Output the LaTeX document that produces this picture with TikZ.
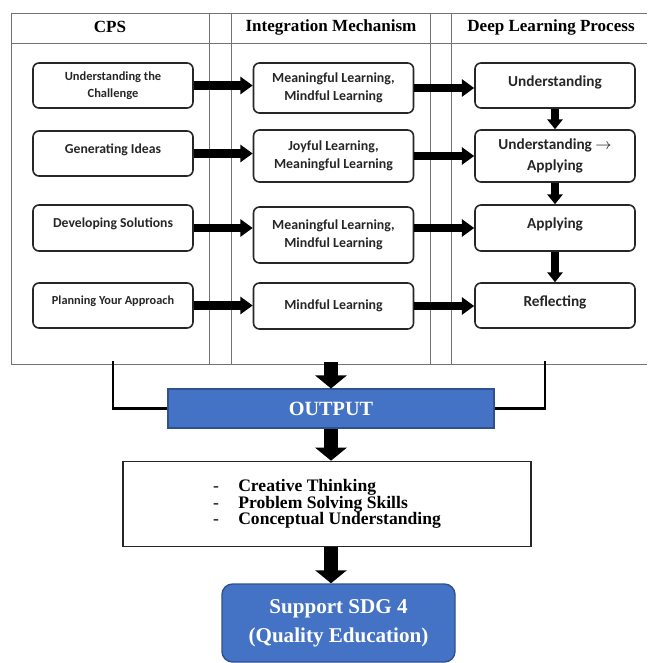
\documentclass[tikz,border=0pt]{standalone}
\usepackage{fontspec}
\setmainfont{Liberation Serif}
\newfontfamily\carlito{Carlito}
\usetikzlibrary{arrows.meta,positioning}

\definecolor{officeblue}{HTML}{4472C4}
\definecolor{blueedge}{HTML}{2F528F}

\newcommand*{\px}{0.02cm}
\newcommand*{\tleft}{11}
\newcommand*{\tright}{647}
\newcommand*{\ttop}{13}
\newcommand*{\thead}{43}
\newcommand*{\tbottom}{364}
\newcommand*{\tightlines}{\lineskiplimit=-6pt\relax}

\begin{document}
\begin{tikzpicture}
[
	x=\px, y=-\px,
	grid/.style={draw=black!55,line width=0.5pt},
	head/.style={font=\fontsize{9.7}{11}\selectfont\bfseries},
	procbox/.style={draw=black!85,line width=0.9pt,rounded corners=3.4pt,minimum width=160*\px,align=center,inner sep=1pt,text=black!85},
	cpsbox/.style={procbox,font=\carlito\bfseries\fontsize{7.8}{10}\selectfont},
	intbox/.style={procbox,font=\carlito\bfseries\fontsize{7.9}{10.5}\selectfont},
	deepbox/.style={procbox,font=\carlito\bfseries\fontsize{8.7}{11.5}\selectfont},
	lifted/.style={text depth=5.5pt},
	flowarrow/.style={line width=5pt,-{Triangle[width=9.6pt,length=7pt]}},
	downarrow/.style={line width=4.4pt,-{Triangle[width=8.6pt,length=5.6pt]}},
	bigarrow/.style={line width=8pt,-{Triangle[width=17.6pt,length=7.4pt]}},
	link/.style={line width=1.3pt}
]

	% table frame
	\useasboundingbox (0,0) rectangle (647,663);
	\draw[grid] (\tleft,\ttop) -- (\tright,\ttop);
	\draw[grid] (\tleft,\thead) -- (\tright,\thead);
	\draw[grid] (\tleft,\tbottom) -- (\tright,\tbottom);
	\draw[grid] (\tleft,\ttop) -- (\tleft,\tbottom);
	\foreach \sx in {209,231,430,451}
		\draw[grid] (\sx,\ttop) -- (\sx,\tbottom);

	\node[head] (hcps) at (110,27) {CPS};
	\node[head] (hint) at (331,27) {Integration Mechanism};
	\node[head] (hdeep) at (551,27) {Deep Learning Process};

	% CPS column
	\node[cpsbox,minimum height=45*\px,font=\carlito\bfseries\fontsize{7.1}{10}\selectfont] (c1) at (113,85.5) {Understanding the\\Challenge};
	\node[cpsbox,lifted,minimum height=45*\px] (c2) at (113,153.5) {Generating Ideas};
	\node[cpsbox,lifted,minimum height=46*\px] (c3) at (113,228) {Developing Solutions};
	\node[cpsbox,lifted,minimum height=45*\px,font=\carlito\bfseries\fontsize{7}{10}\selectfont] (c4) at (113,305.5) {Planning Your Approach};

	% integration column
	\node[intbox,minimum height=50*\px] (i1) at (333.5,88) {Meaningful Learning,\\Mindful Learning};
	\node[intbox,minimum height=52*\px] (i2) at (333.5,156) {Joyful Learning,\\Meaningful Learning};
	\node[intbox,minimum height=56*\px] (i3) at (333.5,235) {Meaningful Learning,\\Mindful Learning};
	\node[intbox,minimum height=46*\px] (i4) at (333.5,306) {Mindful Learning};

	% deep learning column
	\node[deepbox,lifted,minimum height=45*\px] (d1) at (555,85.5) {Understanding};
	\node[deepbox,minimum height=52*\px] (d2) at (555,156) {Understanding \ensuremath{\rightarrow}\\Applying};
	\node[deepbox,lifted,minimum height=46*\px] (d3) at (555,228) {Applying};
	\node[deepbox,lifted,minimum height=45*\px] (d4) at (555,305.5) {Reflecting};

	\draw[flowarrow] (c1.east) -- (c1.east -| i1.west);
	\draw[flowarrow] (c2.east) -- (c2.east -| i2.west);
	\draw[flowarrow] (c3.east) -- (c3.east -| i3.west);
	\draw[flowarrow] (c4.east) -- (c4.east -| i4.west);

	\draw[flowarrow] (i1.east) -- (i1.east -| d1.west);
	\draw[flowarrow] (i2.east) -- (i2.east -| d2.west);
	\draw[flowarrow] (i3.east |- d3.west) -- (d3.west);
	\draw[flowarrow] (i4.east) -- (i4.east -| d4.west);

	\draw[downarrow] (d1.south) -- (d2.north);
	\draw[downarrow] (d2.south) -- (d3.north);
	\draw[downarrow] (d3.south) -- (d4.north);

	% output part
	\node[fill=officeblue,draw=blueedge,line width=0.6pt,minimum width=326*\px,minimum height=39*\px,text=white,font=\fontsize{11.5}{13}\selectfont\bfseries] (out) at (331,408.5) {OUTPUT};

	\node[draw=black!85,line width=0.9pt,minimum width=408*\px,minimum height=85*\px,align=left,font={\fontsize{10}{9.3}\selectfont\bfseries\tightlines}] (res) at (327,504)
		{{\mdseries-}\hspace{11pt}Creative Thinking\\{\mdseries-}\hspace{11pt}Problem Solving Skills\\{\mdseries-}\hspace{11pt}Conceptual Understanding};

	\node[fill=officeblue,draw=blueedge,line width=0.8pt,rounded corners=6pt,minimum width=233*\px,minimum height=78*\px,align=center,text=white,font=\fontsize{12}{16.5}\selectfont\bfseries] (sdg) at (338.5,623) {Support SDG 4\\(Quality Education)};

	\coordinate (tfoot) at (331,362);
	\coordinate (lfoot) at (113,361);
	\coordinate (rfoot) at (545,361);

	\draw[link] (lfoot) |- (out.west);
	\draw[link] (rfoot) |- (out.east);

	\draw[bigarrow] (tfoot) -- (tfoot |- out.north);
	\draw[bigarrow] (out.south) -- (out.south |- res.north);
	\draw[bigarrow] (res.south -| out.south) -- (out.south |- sdg.north);

\end{tikzpicture}
\end{document}
